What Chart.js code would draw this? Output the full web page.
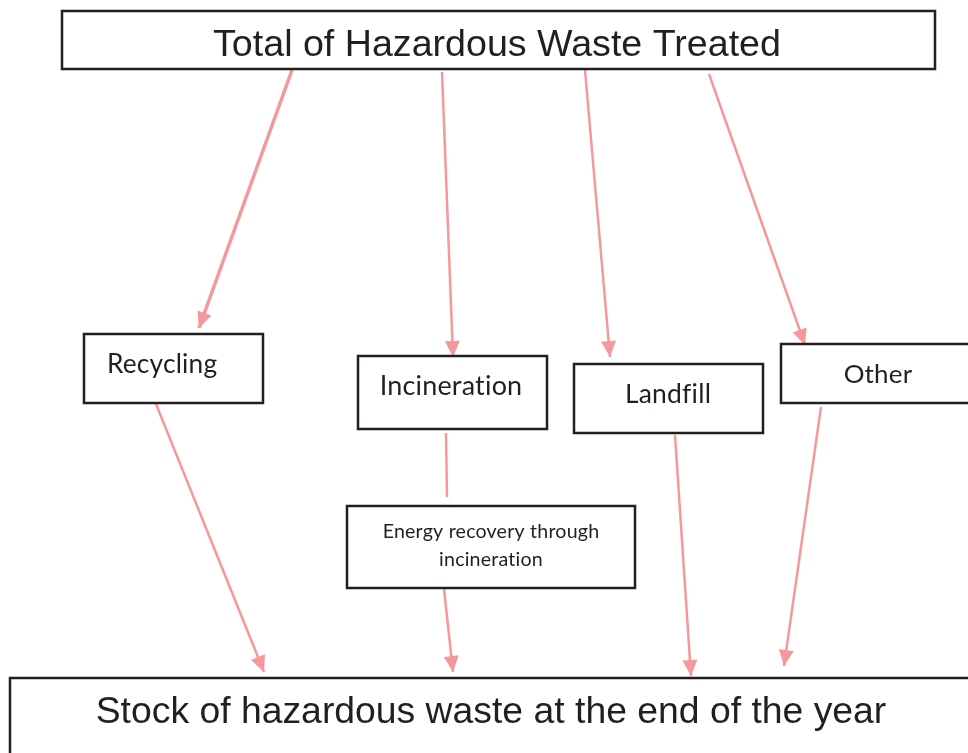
<!DOCTYPE html>
<html><head><meta charset="utf-8">
<script src="https://cdn.jsdelivr.net/npm/chart.js@4.4.1/dist/chart.umd.min.js"></script>
<style>html,body{margin:0;padding:0;background:#fff;overflow:hidden}canvas{display:block}</style>
</head><body>
<canvas id="c" width="968" height="753"></canvas>
<script>
// ---- data ----
const nodeLabels = [
  "Total of Hazardous Waste Treated",
  "Recycling",
  "Incineration",
  "Landfill",
  "Other",
  ["Energy recovery through", "incineration"],
  "Stock of hazardous waste at the end of the year"
];
const flowFrom = [0, 0, 0, 0, 1, 2, 5, 3, 4];
const flowTo   = [1, 2, 3, 4, 6, 5, 6, 6, 6];
const flowHasArrow = [true, true, true, true, true, false, true, true, true];

// ---- layout (diagram geometry, in canvas units) ----
const ARIAL = '"Liberation Sans", Arial, sans-serif';
const CALIBRI = 'Lato, "Open Sans", sans-serif';
const boxLayout = [
  {x0:62,  y0:11,  x1:935,  y1:69,  tx:497, ty:56,  align:'center', family:ARIAL,   fit:[568], lh:0,  bw:2.5},
  {x0:84,  y0:334, x1:263,  y1:403, tx:107, ty:373, align:'left',   family:CALIBRI, fit:[109], lh:0,  bw:2.5},
  {x0:358, y0:356, x1:547,  y1:429, tx:451, ty:395, align:'center', family:CALIBRI, fit:[141], lh:0,  bw:2.5},
  {x0:574, y0:364, x1:763,  y1:433, tx:668, ty:403, align:'center', family:CALIBRI, fit:[85],  lh:0,  bw:2.5},
  {x0:781, y0:344, x1:980,  y1:403, tx:878, ty:383, align:'center', family:CALIBRI, fit:[68],  lh:0,  bw:2.5},
  {x0:347, y0:506, x1:635,  y1:588, tx:491, ty:538, align:'center', family:CALIBRI, fit:[213], lh:28, bw:2.5},
  {x0:10,  y0:678, x1:980,  y1:770, tx:491, ty:723, align:'center', family:ARIAL,   fit:[791], lh:0,  bw:2.5}
];
const flowLayout = [
  [292, 70, 199, 328],
  [442, 72, 453, 357],
  [585, 70, 610, 357],
  [709, 74, 805, 345],
  [156, 404, 264, 672],
  [446, 433, 447, 497],
  [444, 589, 453, 672],
  [675, 435, 691, 676],
  [821, 407, 784, 666]
];
const flowWidth = [3.5, 2.5, 2.5, 2.5, 2.5, 2.5, 2.5, 2.5, 2.5];
const FLOW_COLOR = '#F4989B';
const BOX_COLOR = '#231F20';
const TEXT_COLOR = '#231F20';

const datasets = flowFrom.map((f, i) => ({
  label: (Array.isArray(nodeLabels[f]) ? nodeLabels[f].join(' ') : nodeLabels[f]) + ' → ' +
         (Array.isArray(nodeLabels[flowTo[i]]) ? nodeLabels[flowTo[i]].join(' ') : nodeLabels[flowTo[i]]),
  data: [{x: flowLayout[i][0], y: flowLayout[i][1]}, {x: flowLayout[i][2], y: flowLayout[i][3]}],
  showLine: true,
  borderColor: FLOW_COLOR,
  backgroundColor: FLOW_COLOR,
  borderWidth: flowWidth[i],
  pointRadius: 0,
  clip: false
}));

const diagramPlugin = {
  id: 'diagram',
  afterDatasetsDraw(chart) {
    const ctx = chart.ctx;
    const xs = chart.scales.x, ys = chart.scales.y;
    // arrowheads
    datasets.forEach((ds, i) => {
      if (!flowHasArrow[i]) return;
      const meta = chart.getDatasetMeta(i);
      const a = meta.data[0], b = meta.data[1];
      const ang = Math.atan2(b.y - a.y, b.x - a.x);
      const L = 16, W = 7.5;
      ctx.save();
      ctx.translate(b.x, b.y);
      ctx.rotate(ang);
      ctx.beginPath();
      ctx.moveTo(0, 0);
      ctx.lineTo(-L, -W);
      ctx.lineTo(-L, W);
      ctx.closePath();
      ctx.fillStyle = FLOW_COLOR;
      ctx.fill();
      ctx.restore();
    });
    // boxes + labels
    nodeLabels.forEach((lab, i) => {
      const L = boxLayout[i];
      const x0 = xs.getPixelForValue(L.x0), x1 = xs.getPixelForValue(L.x1);
      const y0 = ys.getPixelForValue(L.y0), y1 = ys.getPixelForValue(L.y1);
      ctx.save();
      ctx.fillStyle = '#fff';
      ctx.fillRect(x0, y0, x1 - x0, y1 - y0);
      ctx.strokeStyle = BOX_COLOR;
      ctx.lineWidth = L.bw;
      ctx.strokeRect(x0, y0, x1 - x0, y1 - y0);
      const lines = Array.isArray(lab) ? lab : [lab];
      if ('letterSpacing' in ctx) ctx.letterSpacing = (L.family === CALIBRI) ? '0.2px' : '0px'; // suppresses ti/fi ligatures
      ctx.font = '100px ' + L.family;
      const w100 = ctx.measureText(lines[0]).width;
      const size = 100 * L.fit[0] / w100;
      ctx.font = size.toFixed(2) + 'px ' + L.family;
      ctx.fillStyle = TEXT_COLOR;
      ctx.textAlign = L.align;
      ctx.textBaseline = 'alphabetic';
      lines.forEach((ln, k) => {
        ctx.fillText(ln, xs.getPixelForValue(L.tx), ys.getPixelForValue(L.ty + k * L.lh));
      });
      ctx.restore();
    });
  }
};

new Chart(document.getElementById('c'), {
  type: 'scatter',
  data: { datasets },
  options: {
    responsive: false,
    devicePixelRatio: 1,
    animation: false,
    events: [],
    layout: { padding: 0 },
    plugins: { legend: { display: false }, tooltip: { enabled: false } },
    scales: {
      x: { type: 'linear', min: 0, max: 968, display: false },
      y: { type: 'linear', min: 0, max: 753, reverse: true, display: false }
    }
  },
  plugins: [diagramPlugin]
});
</script>
</body></html>
